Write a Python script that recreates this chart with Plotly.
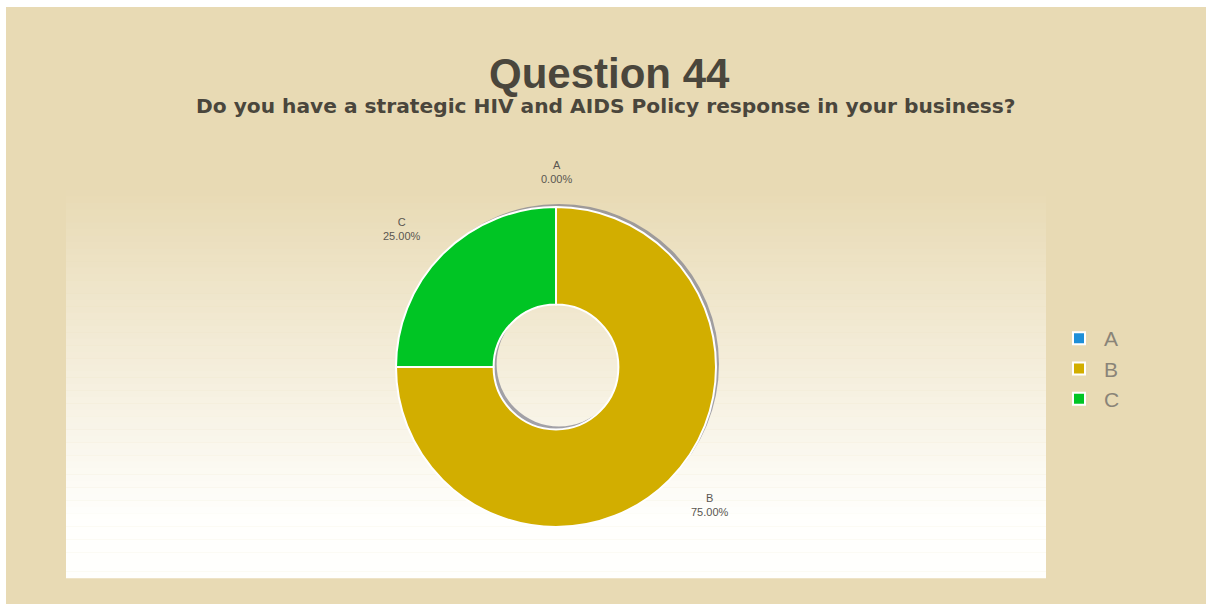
import math
import plotly.graph_objects as go

labels = ["A", "B", "C"]
values = [0, 75, 25]
colors = ["#1E8FD8", "#D2AE00", "#00C524"]
title_text = "Question 44"
subtitle_text = "Do you have a strategic HIV and AIDS Policy response in your business?"

W, H = 1206, 604
BG = "#E8DAB4"
FONT = "Liberation Sans, Arial, sans-serif"


def px(x):
    return x / W


def py(y):
    return 1 - y / H


# pie geometry (pixels)
CX, CY, R = 556, 367, 160

fig = go.Figure()

# soft shadow ring behind the donut (offset up/right)
fig.add_trace(go.Pie(
    labels=["s" + l for l in labels],
    values=values,
    marker=dict(colors=["rgba(125,125,140,0.7)"] * len(values), line=dict(width=0)),
    hole=0.39,
    sort=False,
    direction="clockwise",
    rotation=0,
    textinfo="none",
    domain=dict(x=[px(CX - R + 3), px(CX + R + 3)], y=[py(CY + R - 3), py(CY - R - 3)]),
    showlegend=False,
    hoverinfo="skip",
))

fig.add_trace(go.Pie(
    labels=labels,
    values=values,
    marker=dict(colors=colors, line=dict(color="white", width=2)),
    hole=0.39,
    sort=False,
    direction="clockwise",
    rotation=0,
    textinfo="none",
    domain=dict(x=[px(CX - R), px(CX + R)], y=[py(CY + R), py(CY - R)]),
    showlegend=True,
    hoverinfo="label+percent",
))

shapes = []
# white edges at top and left
shapes.append(dict(type="rect", xref="paper", yref="paper", x0=0, x1=1, y0=py(7), y1=1,
                   fillcolor="white", line=dict(width=0), layer="below"))
shapes.append(dict(type="rect", xref="paper", yref="paper", x0=0, x1=px(6), y0=0, y1=1,
                   fillcolor="white", line=dict(width=0), layer="below"))

# gradient panel
top, bottom = 190, 578
n = 60
c0 = (232, 218, 180)
c1 = (255, 255, 253)
for i in range(n):
    y0 = top + (bottom - top) * i / n
    y1 = top + (bottom - top) * (i + 1) / n
    t = min(1.0, (i + 0.5) / n / 0.85)
    c = tuple(int(round(c0[k] + (c1[k] - c0[k]) * t)) for k in range(3))
    shapes.append(dict(type="rect", xref="paper", yref="paper",
                       x0=px(66), x1=px(1046), y0=py(y1) - 0.0005, y1=py(y0),
                       fillcolor="rgb(%d,%d,%d)" % c, line=dict(width=0), layer="below"))

annotations = [
    dict(text="<b>" + title_text + "</b>", x=px(609), y=py(73), xref="paper", yref="paper",
         showarrow=False, font=dict(family=FONT, size=42, color="#4A463C"),
         xanchor="center", yanchor="middle"),
    dict(text="<b>" + subtitle_text + "</b>", x=px(606), y=py(106), xref="paper", yref="paper",
         showarrow=False, font=dict(family="DejaVu Sans, sans-serif", size=20.2, color="#4A463C"),
         xanchor="center", yanchor="middle"),
]

# slice labels placed outside each slice at its mid angle
total = float(sum(values))
cum = 0.0
RX, RY = 218, 195
for lab, v in zip(labels, values):
    f = (cum + v / 2.0) / total
    th = 2 * math.pi * f
    lx = CX + RX * math.sin(th)
    ly = CY - RY * math.cos(th)
    annotations.append(dict(
        text="%s<br>%.2f%%" % (lab, 100.0 * v / total),
        x=px(lx), y=py(ly), xref="paper", yref="paper", showarrow=False,
        font=dict(family=FONT, size=11, color="#5A5650"),
        xanchor="center", yanchor="middle", align="center",
    ))
    cum += v

fig.update_layout(
    width=W, height=H,
    margin=dict(l=0, r=0, t=0, b=0),
    paper_bgcolor=BG,
    plot_bgcolor=BG,
    shapes=shapes,
    annotations=annotations,
    legend=dict(x=px(1054), y=py(318), xanchor="left", yanchor="top",
                font=dict(family=FONT, size=21, color="#8A8478"),
                bgcolor="rgba(0,0,0,0)", itemwidth=40),
)

fig.write_html("out.html")
